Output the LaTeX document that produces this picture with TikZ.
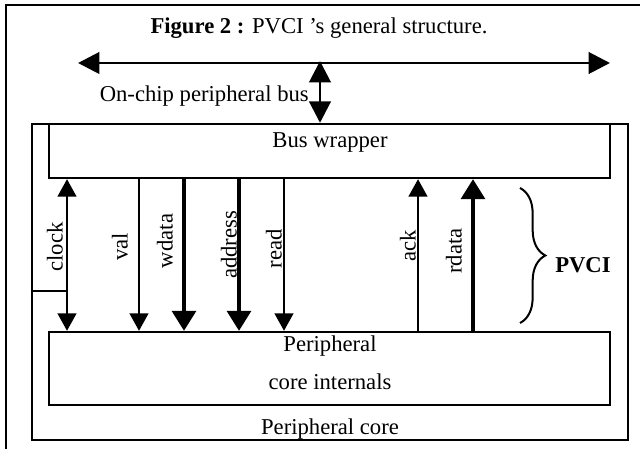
\documentclass[tikz,border=0pt]{standalone}
\usepackage{fontspec}
\setmainfont{Liberation Serif}
\usetikzlibrary{arrows.meta,fit,decorations.pathreplacing}
\begin{document}
\begin{tikzpicture}[x=0.75pt,y=-0.75pt,
  every node/.style={font=\fontsize{17}{20}\selectfont, inner sep=0pt},
  box/.style={draw, line width=1.8pt, inner sep=0pt},
  thinsig/.style={line width=1.5pt, -{Triangle[length=13pt,width=14pt]}},
  thicksig/.style={line width=2.6pt, -{Triangle[length=15pt,width=18pt]}},
  clocksig/.style={line width=1.5pt, {Triangle[length=13pt,width=14pt]}-{Triangle[length=13pt,width=14pt]}},
  bussig/.style={line width=2.2pt, {Triangle[length=16pt,width=16pt]}-{Triangle[length=16pt,width=16pt]}},
  lbl/.style={rotate=90, anchor=south}
]
\useasboundingbox (0,0) rectangle (640,449);
% outer frame
\draw[line width=1.1pt] (6,449) -- (6,5) -- (640,5);
% title
\node[anchor=base] (title) at (319,34) {\textbf{Figure 2 :} PVCI 's general structure.};
% bus
\coordinate (busL) at (78,63);
\coordinate (busR) at (610,63);
\coordinate (busM) at (320,61);
\draw[bussig] (busL) -- (busR);
\node[anchor=base east] (buslbl) at (309,102) {On-chip peripheral bus};
% boxes
\node[box, fit={(32,124) (628,440)}] (pc) {};
\node[box, fit={(49,124) (610,178)}] (bw) {};
\node[box, fit={(49,332) (610,405)}] (pci) {};
\node[anchor=base] (bwtxt) at (330,148) {Bus wrapper};
\node[anchor=base] (pcitxt1) at (330,352) {Peripheral};
\node[anchor=base] (pcitxt2) at (330,390) {core internals};
\node[anchor=base] (pctxt) at (330,435) {Peripheral core};
\draw[bussig] (busM) -- (busM |- bw.north);
% signal x positions
\coordinate (xclock) at (67,0);
\coordinate (xval) at (139,0);
\coordinate (xwdata) at (184,0);
\coordinate (xaddr) at (239,0);
\coordinate (xread) at (284,0);
\coordinate (xack) at (418,0);
\coordinate (xrdata) at (473,0);
% clock corner line
\coordinate (clk) at (67,291);
\draw[line width=1.5pt] (pc.west |- clk) -- (clk);
% signals
\draw[clocksig] (bw.south -| xclock) -- (pci.north -| xclock);
\draw[thinsig] (bw.south -| xval) -- (pci.north -| xval);
\draw[thicksig] (bw.south -| xwdata) -- (pci.north -| xwdata);
\draw[thicksig] (bw.south -| xaddr) -- (pci.north -| xaddr);
\draw[thinsig] (bw.south -| xread) -- (pci.north -| xread);
\draw[thinsig] (pci.north -| xack) -- (bw.south -| xack);
\draw[thicksig] (pci.north -| xrdata) -- (bw.south -| xrdata);
% labels
\node[lbl] (lclock) at (63,247) {clock};
\node[lbl] (lval) at (128,247) {val};
\node[lbl] (lwdata) at (173,241) {wdata};
\node[lbl] (laddr) at (237,245) {address};
\node[lbl] (lread) at (282,249) {read};
\node[lbl] (lack) at (416,246) {ack};
\node[lbl] (lrdata) at (462,251) {rdata};
% brace
\coordinate (brT) at (520,188);
\coordinate (brB) at (520,323);
\draw[line width=1.5pt, decorate, decoration={brace, amplitude=19pt}] (brT) -- (brB);
\node[anchor=base west] (pvci) at (555,273) {\textbf{PVCI}};
\end{tikzpicture}
\end{document}
